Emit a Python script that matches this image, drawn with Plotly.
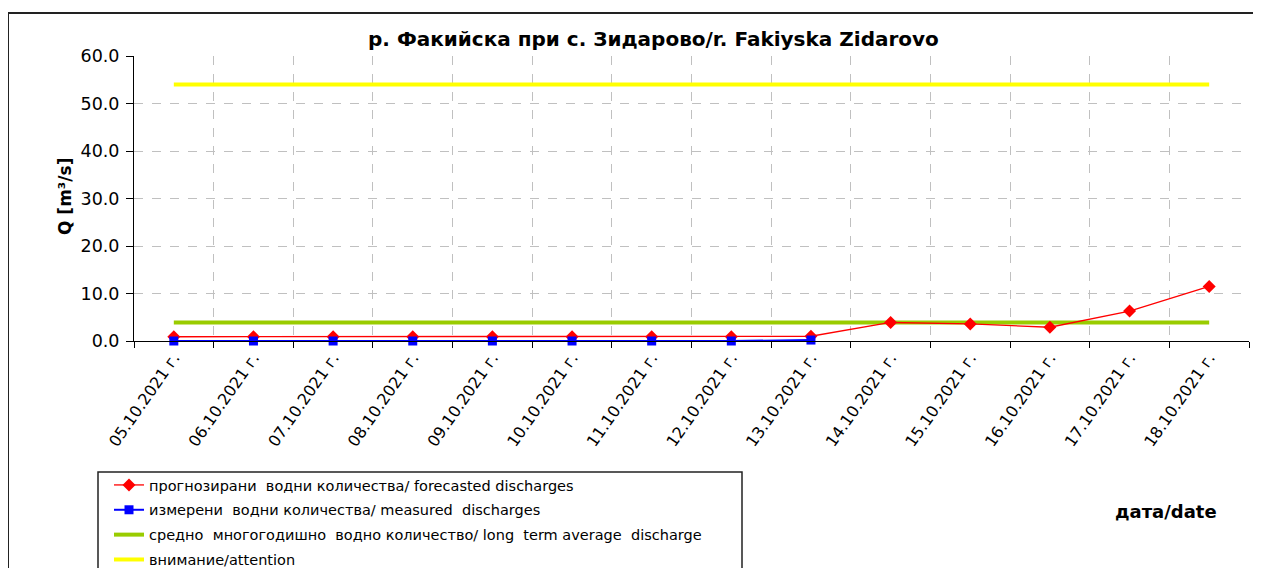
import plotly.graph_objects as go

dates = ["05.10.2021 г.", "06.10.2021 г.", "07.10.2021 г.", "08.10.2021 г.",
         "09.10.2021 г.", "10.10.2021 г.", "11.10.2021 г.", "12.10.2021 г.",
         "13.10.2021 г.", "14.10.2021 г.", "15.10.2021 г.", "16.10.2021 г.",
         "17.10.2021 г.", "18.10.2021 г."]
forecast = [0.9, 0.9, 0.9, 0.9, 0.9, 0.9, 0.9, 0.9, 1.0, 3.9, 3.6, 2.9, 6.3, 11.5]
measured_dates = ["05.10.2021 г.", "06.10.2021 г.", "07.10.2021 г.", "08.10.2021 г.",
                  "09.10.2021 г.", "10.10.2021 г.", "11.10.2021 г.", "12.10.2021 г.",
                  "13.10.2021 г."]
measured = [0.0, 0.0, 0.0, 0.0, 0.0, 0.0, 0.0, 0.0, 0.2]
average = [3.9, 3.9, 3.9, 3.9, 3.9, 3.9, 3.9, 3.9, 3.9, 3.9, 3.9, 3.9, 3.9, 3.9]
attention = [54.0, 54.0, 54.0, 54.0, 54.0, 54.0, 54.0, 54.0, 54.0, 54.0, 54.0, 54.0, 54.0, 54.0]

names = ["прогнозирани  водни количества/ forecasted discharges",
         "измерени  водни количества/ measured  discharges",
         "средно  многогодишно  водно количество/ long  term average  discharge",
         "внимание/attention"]

FONT = "DejaVu Sans"

fig = go.Figure()
fig.add_trace(go.Scatter(x=dates, y=attention, mode="lines", name=names[3],
                         line=dict(color="#ffff00", width=4), legendgroup="d", legendrank=4))
fig.add_trace(go.Scatter(x=dates, y=average, mode="lines", name=names[2],
                         line=dict(color="#99cc00", width=4), legendgroup="c", legendrank=3))
fig.add_trace(go.Scatter(x=dates, y=forecast, mode="lines+markers", name=names[0],
                         line=dict(color="#ff0000", width=1.3),
                         marker=dict(symbol="diamond", size=10, color="#ff0000"),
                         cliponaxis=False, legendgroup="a", legendrank=1))
fig.add_trace(go.Scatter(x=measured_dates, y=measured, mode="lines+markers", name=names[1],
                         line=dict(color="#0000ff", width=2),
                         marker=dict(symbol="square", size=9, color="#0000ff"),
                         cliponaxis=False, legendgroup="b", legendrank=2))

# The page body has an 8px margin, so the figure is laid out 8px up/left.
# Plot area on screen: x 134..1249, y 56..341
def px(xp):
    return (xp - 134) / 1115.0

def py(yp):
    return (341 - yp) / 285.0

border = dict(color="#222222", width=2)
fig.update_layout(
    width=1261, height=568,
    margin=dict(l=126, r=20, t=48, b=235, autoexpand=False),
    paper_bgcolor="white", plot_bgcolor="white",
    font=dict(family=FONT, color="black"),
    showlegend=True,
    legend=dict(x=px(109), y=py(469), xanchor="left", yanchor="top",
                bgcolor="rgba(0,0,0,0)", borderwidth=0,
                font=dict(family=FONT, size=14.5, color="black"),
                traceorder="grouped", tracegroupgap=3, itemwidth=30),
    xaxis=dict(type="category", categoryorder="array", categoryarray=dates,
               range=[-0.5, 13.5], tickson="boundaries", automargin=False,
               showgrid=True, gridcolor="#c0c0c0", griddash="dash", gridwidth=1,
               showline=True, linecolor="black", linewidth=1,
               ticks="outside", ticklen=6, tickcolor="black",
               tickangle=-55, tickfont=dict(family=FONT, size=16, color="black")),
    yaxis=dict(range=[0, 60], dtick=10, tickformat=".1f", automargin=False,
               showgrid=True, gridcolor="#c0c0c0", griddash="dash", gridwidth=1,
               zeroline=False, showline=True, linecolor="black", linewidth=1,
               ticks="outside", ticklen=7, tickcolor="black", ticklabelstandoff=3,
               tickfont=dict(family=FONT, size=17.5, color="black")),
    shapes=[
        # outer chart frame (only top and left edges are inside the view)
        dict(type="line", xref="paper", yref="paper",
             x0=px(8), x1=px(1300), y0=py(13), y1=py(13), line=border, layer="above"),
        dict(type="line", xref="paper", yref="paper",
             x0=px(8), x1=px(8), y0=py(13), y1=py(600), line=border, layer="above"),
        # legend box
        dict(type="rect", xref="paper", yref="paper",
             x0=px(98), x1=px(742), y0=py(472), y1=py(600),
             line=dict(color="#222222", width=1.5), fillcolor="rgba(0,0,0,0)", layer="above"),
    ],
    annotations=[
        dict(text="<b>р. Факийска при с. Зидарово/r. Fakiyska Zidarovo</b>",
             xref="paper", yref="paper", x=px(653), y=py(39),
             xanchor="center", yanchor="middle", showarrow=False,
             font=dict(family=FONT, size=20, color="black")),
        dict(text="<b>Q [m³/s]</b>", xref="paper", yref="paper",
             x=px(65), y=py(197), xanchor="center", yanchor="middle",
             textangle=-90, showarrow=False,
             font=dict(family=FONT, size=17, color="black")),
        dict(text="<b>дата/date</b>", xref="paper", yref="paper",
             x=px(1166), y=py(511), xanchor="center", yanchor="middle",
             showarrow=False, font=dict(family=FONT, size=18, color="black")),
    ],
)

fig.write_html("out.html")
